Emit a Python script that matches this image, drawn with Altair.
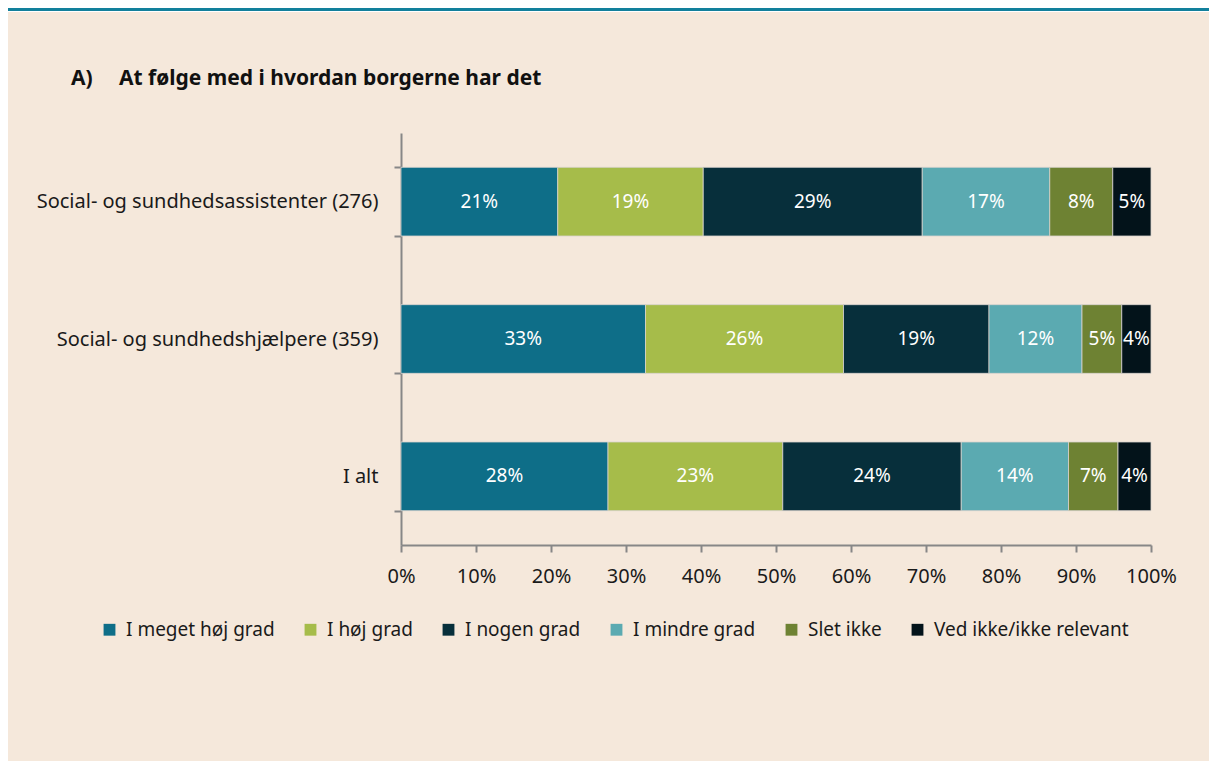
import altair as alt
import pandas as pd

groups = ["Social- og sundhedsassistenter (276)", "Social- og sundhedshjælpere (359)", "I alt"]
categories = ["I meget høj grad", "I høj grad", "I nogen grad", "I mindre grad", "Slet ikke", "Ved ikke/ikke relevant"]
colors = ["#0E6E88", "#A6BC4A", "#072F3B", "#5BAAB1", "#6E8233", "#03131A"]
values_assist = [20.9, 19.4, 29.2, 17.0, 8.4, 5.1]
values_helper = [32.6, 26.4, 19.4, 12.4, 5.3, 3.9]
values_total = [27.6, 23.3, 23.8, 14.3, 6.6, 4.4]
x_ticks = [0, 10, 20, 30, 40, 50, 60, 70, 80, 90, 100]
title_prefix = "A)"
title_text = "At følge med i hvordan borgerne har det"

rows = []
for g, vals in zip(groups, [values_assist, values_helper, values_total]):
    for i, (c, v) in enumerate(zip(categories, vals)):
        rows.append({"group": g, "cat": c, "order": i, "value": v})
df = pd.DataFrame(rows)

FONT = "Noto Sans"
BG = "#F5E8DB"
AXIS = "#878787"

base = alt.Chart(df).transform_stack(
    stack="value", groupby=["group"], as_=["x0", "x1"], sort=[alt.SortField("order")]
).transform_calculate(
    mid="(datum.x0 + datum.x1) / 2",
    label="format(datum.value, '.0f') + '%'",
)

yenc = alt.Y(
    "group:N",
    sort=groups,
    scale=alt.Scale(paddingInner=0.5, paddingOuter=0.25),
    axis=alt.Axis(
        title=None, tickBand="extent", labelFontSize=20, labelFont=FONT, labelColor="#1a1a1a",
        labelPadding=16, tickSize=7, tickColor=AXIS, domainColor=AXIS, domainWidth=2, tickWidth=2,
        labelLimit=500,
    ),
)

bars = base.mark_bar(stroke="#D8D3CE", strokeWidth=0.8).encode(
    x=alt.X(
        "x0:Q",
        scale=alt.Scale(domain=[0, 100], nice=False),
        axis=alt.Axis(
            title=None, values=x_ticks, labelExpr="datum.value + '%'", labelFontSize=20,
            labelFont=FONT, labelColor="#1a1a1a", labelPadding=14, tickSize=7, tickColor=AXIS,
            domainColor=AXIS, domainWidth=2, tickWidth=2, grid=False,
            labelFlush=False, labelOverlap=False, labelBound=False,
        ),
    ),
    x2="x1:Q",
    y=yenc,
    color=alt.Color(
        "cat:N",
        scale=alt.Scale(domain=categories, range=colors),
        legend=alt.Legend(
            title=None, orient="none", legendX=-301, legendY=487, direction="horizontal",
            symbolType="square", symbolSize=140, symbolStrokeWidth=0, labelFontSize=19,
            labelFont=FONT, labelColor="#1a1a1a", columnPadding=26, labelOffset=7, padding=0,
            labelLimit=400,
        ),
    ),
    order=alt.Order("order:Q"),
)

labels = base.mark_text(color="white", fontSize=19, font=FONT).encode(
    x=alt.X("mid:Q"),
    y=alt.Y("group:N", sort=groups),
    text="label:N",
)

title_df = pd.DataFrame({"prefix": [title_prefix], "text": [title_text]})
t1 = alt.Chart(title_df).mark_text(align="left", baseline="middle", fontSize=21, fontWeight="bold", font=FONT, color="#111").encode(
    x=alt.value(-330), y=alt.value(-54), text="prefix:N"
)
t2 = alt.Chart(title_df).mark_text(align="left", baseline="middle", fontSize=21, fontWeight="bold", font=FONT, color="#111").encode(
    x=alt.value(-282), y=alt.value(-54), text="text:N"
)
topline = alt.Chart(title_df).mark_rect(color="#12809C").encode(
    x=alt.value(-393), x2=alt.value(808), y=alt.value(-125), y2=alt.value(-122)
)
whiteband = alt.Chart(title_df).mark_rect(color="white").encode(
    x=alt.value(-393), x2=alt.value(808), y=alt.value(-122), y2=alt.value(-121)
)

chart = alt.layer(topline, whiteband, t1, t2, bars, labels).properties(
    width=750, height=412,
    autosize=alt.AutoSizeParams(type="none"),
    padding={"left": 393, "top": 125, "right": 58, "bottom": 216},
    background=BG,
).configure_view(stroke=None)

chart.save("out.html", embed_options={"renderer": "svg", "actions": False})
